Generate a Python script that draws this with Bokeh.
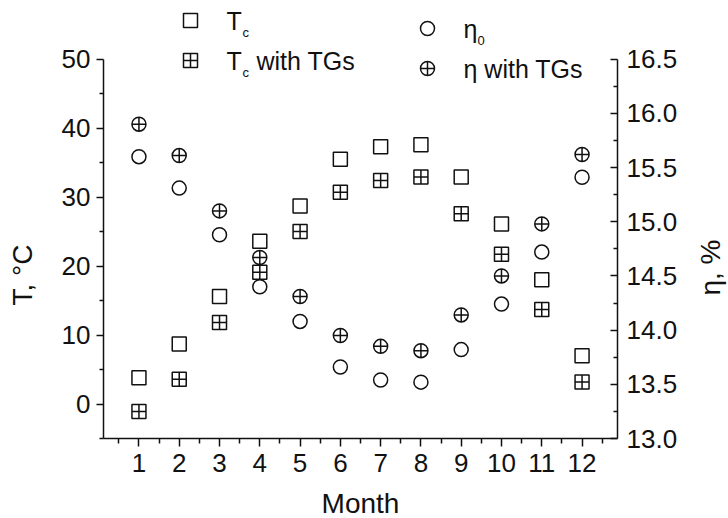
import math
from bokeh.plotting import figure
from bokeh.layouts import row
from bokeh.models import Range1d, LinearAxis, FixedTicker, Label, NumeralTickFormatter
from bokeh.embed import file_html
from bokeh.resources import INLINE

# ---- data ----
months = [1, 2, 3, 4, 5, 6, 7, 8, 9, 10, 11, 12]
Tc = [3.8, 8.7, 15.6, 23.6, 28.7, 35.5, 37.3, 37.6, 32.9, 26.1, 18.0, 7.0]
Tc_TG = [-1.1, 3.6, 11.8, 19.1, 25.0, 30.7, 32.4, 32.9, 27.6, 21.7, 13.7, 3.2]
eta0 = [15.60, 15.31, 14.88, 14.40, 14.08, 13.66, 13.54, 13.52, 13.82, 14.24, 14.72, 15.41]
eta_TG = [15.90, 15.61, 15.10, 14.67, 14.31, 13.95, 13.85, 13.81, 14.14, 14.50, 14.98, 15.62]
left_ticks = [0, 10, 20, 30, 40, 50]
right_ticks = [13.0, 13.5, 14.0, 14.5, 15.0, 15.5, 16.0, 16.5]

FONT = "Liberation Sans"
INK = "#111111"

# ---- layout geometry (page pixels) ----
H = 518                  # page height
LW_FIG = 40              # narrow strip holding the left axis title
RW_FIG = 40              # narrow strip holding the right axis title
FL, FT = 103, 0          # frame left / top on the page
FW, FH = 514, 438        # frame size
X0, X1 = 0.12, 12.88
Y0, Y1 = -5.0, 58.5
R0 = 13.0
R1 = 13.0 + 3.5 * (Y1 - Y0) / 55.0

p = figure(frame_width=FW, frame_height=FH,
           x_range=Range1d(X0, X1), y_range=Range1d(Y0, Y1),
           output_backend="svg", toolbar_location=None,
           min_border_left=FL - LW_FIG, min_border_right=70,
           min_border_top=FT, min_border_bottom=H - FH - FT)
p.extra_y_ranges = {"eta": Range1d(R0, R1)}
p.grid.visible = False
p.outline_line_color = None
p.background_fill_color = "white"
p.border_fill_color = "white"


def at(px, py):
    """page pixel -> (x, left-y) data, used only for legend placement"""
    x = X0 + (px - FL) / FW * (X1 - X0)
    y = Y1 - (py - FT) / FH * (Y1 - Y0)
    return x, y


def style_axis(ax):
    ax.axis_line_width = 1.5
    ax.major_tick_line_width = 1.5
    ax.minor_tick_line_width = 1.5
    ax.axis_line_color = INK
    ax.major_tick_line_color = INK
    ax.minor_tick_line_color = INK
    ax.major_label_text_font = FONT
    ax.major_label_text_font_size = "26px"
    ax.major_label_text_color = INK
    ax.axis_label_text_font = FONT
    ax.axis_label_text_font_size = "28px"
    ax.axis_label_text_font_style = "normal"
    ax.axis_label_text_color = INK


# x axis
xa = p.xaxis[0]
style_axis(xa)
xa.ticker = FixedTicker(ticks=months, minor_ticks=[m - 0.5 for m in months] + [12.5])
xa.major_tick_out = 8
xa.major_tick_in = 0
xa.minor_tick_out = 5
xa.minor_tick_in = 0
xa.major_label_standoff = 7
xa.axis_label = "Month"
xa.axis_label_standoff = 13

# left axis
ya = p.yaxis[0]
style_axis(ya)
ya.ticker = FixedTicker(ticks=left_ticks, minor_ticks=[t - 5 for t in left_ticks])
ya.bounds = (-5, 50)
ya.major_tick_out = 7
ya.major_tick_in = 0
ya.minor_tick_out = 4
ya.minor_tick_in = 0
ya.major_label_standoff = 6

# right axis
ra = LinearAxis(y_range_name="eta",
                ticker=FixedTicker(ticks=right_ticks, minor_ticks=[t + 0.25 for t in right_ticks[:-1]]),
                formatter=NumeralTickFormatter(format="0.0"),
                bounds=(13.0, 16.5))
style_axis(ra)
ra.major_tick_out = 0
ra.major_tick_in = 7
ra.minor_tick_out = 0
ra.minor_tick_in = 4
ra.major_label_standoff = 9
p.add_layout(ra, "right")

# ---- data markers ----
MS = 14
LW = 1.5
p.scatter(months, Tc, marker="square", size=MS, fill_color="white", line_color=INK, line_width=LW)
p.scatter(months, Tc_TG, marker="square_cross", size=MS, fill_color="white", line_color=INK, line_width=LW)
p.scatter(months, eta0, marker="circle", size=MS, fill_color="white", line_color=INK, line_width=LW,
          y_range_name="eta")
p.scatter(months, eta_TG, marker="circle_cross", size=MS, fill_color="white", line_color=INK, line_width=LW,
          y_range_name="eta")

# ---- legend (drawn at the top, inside the frame) ----
legend_items = [
    ("square", 190, 20, "T", "c", ""),
    ("square_cross", 190, 60, "T", "c", "with TGs"),
    ("circle", 427, 28, "η", "0", ""),
    ("circle_cross", 427, 68, "η with TGs", "", ""),
]
for marker, mx, my, main, sub, tail in legend_items:
    x, y = at(mx, my)
    p.scatter([x], [y], marker=marker, size=MS, fill_color="white", line_color=INK, line_width=LW)
    tx, ty = at(mx + 36, my)
    p.add_layout(Label(x=tx, y=ty, text=main, text_font=FONT, text_font_size="25px",
                       text_color=INK, text_align="left", text_baseline="middle"))
    if sub:
        sx, sy = at(mx + 36 + (16 if main == "T" else 14), my + 12)
        p.add_layout(Label(x=sx, y=sy, text=sub, text_font=FONT, text_font_size="13px",
                           text_color=INK, text_align="left", text_baseline="middle"))
    if tail:
        wx, wy = at(mx + 36 + 30, my)
        p.add_layout(Label(x=wx, y=wy, text=tail, text_font=FONT, text_font_size="25px",
                           text_color=INK, text_align="left", text_baseline="middle"))


# ---- narrow strips carrying the vertical axis titles ----
def title_strip(width, cx, cy, text):
    s = figure(width=width, height=H, x_range=Range1d(0, width), y_range=Range1d(H, 0),
               output_backend="svg", toolbar_location=None, min_border=0,
               x_axis_location=None, y_axis_location=None)
    s.grid.visible = False
    s.outline_line_color = None
    s.background_fill_color = "white"
    s.border_fill_color = "white"
    s.add_layout(Label(x=cx, y=cy, text=text, angle=math.pi / 2, text_font=FONT,
                       text_font_size="28px", text_color=INK,
                       text_align="center", text_baseline="middle"))
    return s


left_strip = title_strip(LW_FIG, 22, 327, "T, °C")
right_strip = title_strip(RW_FIG, 23, 318, "η, %")

layout = row(left_strip, p, right_strip)
open("out.html", "w").write(file_html(layout, INLINE))
